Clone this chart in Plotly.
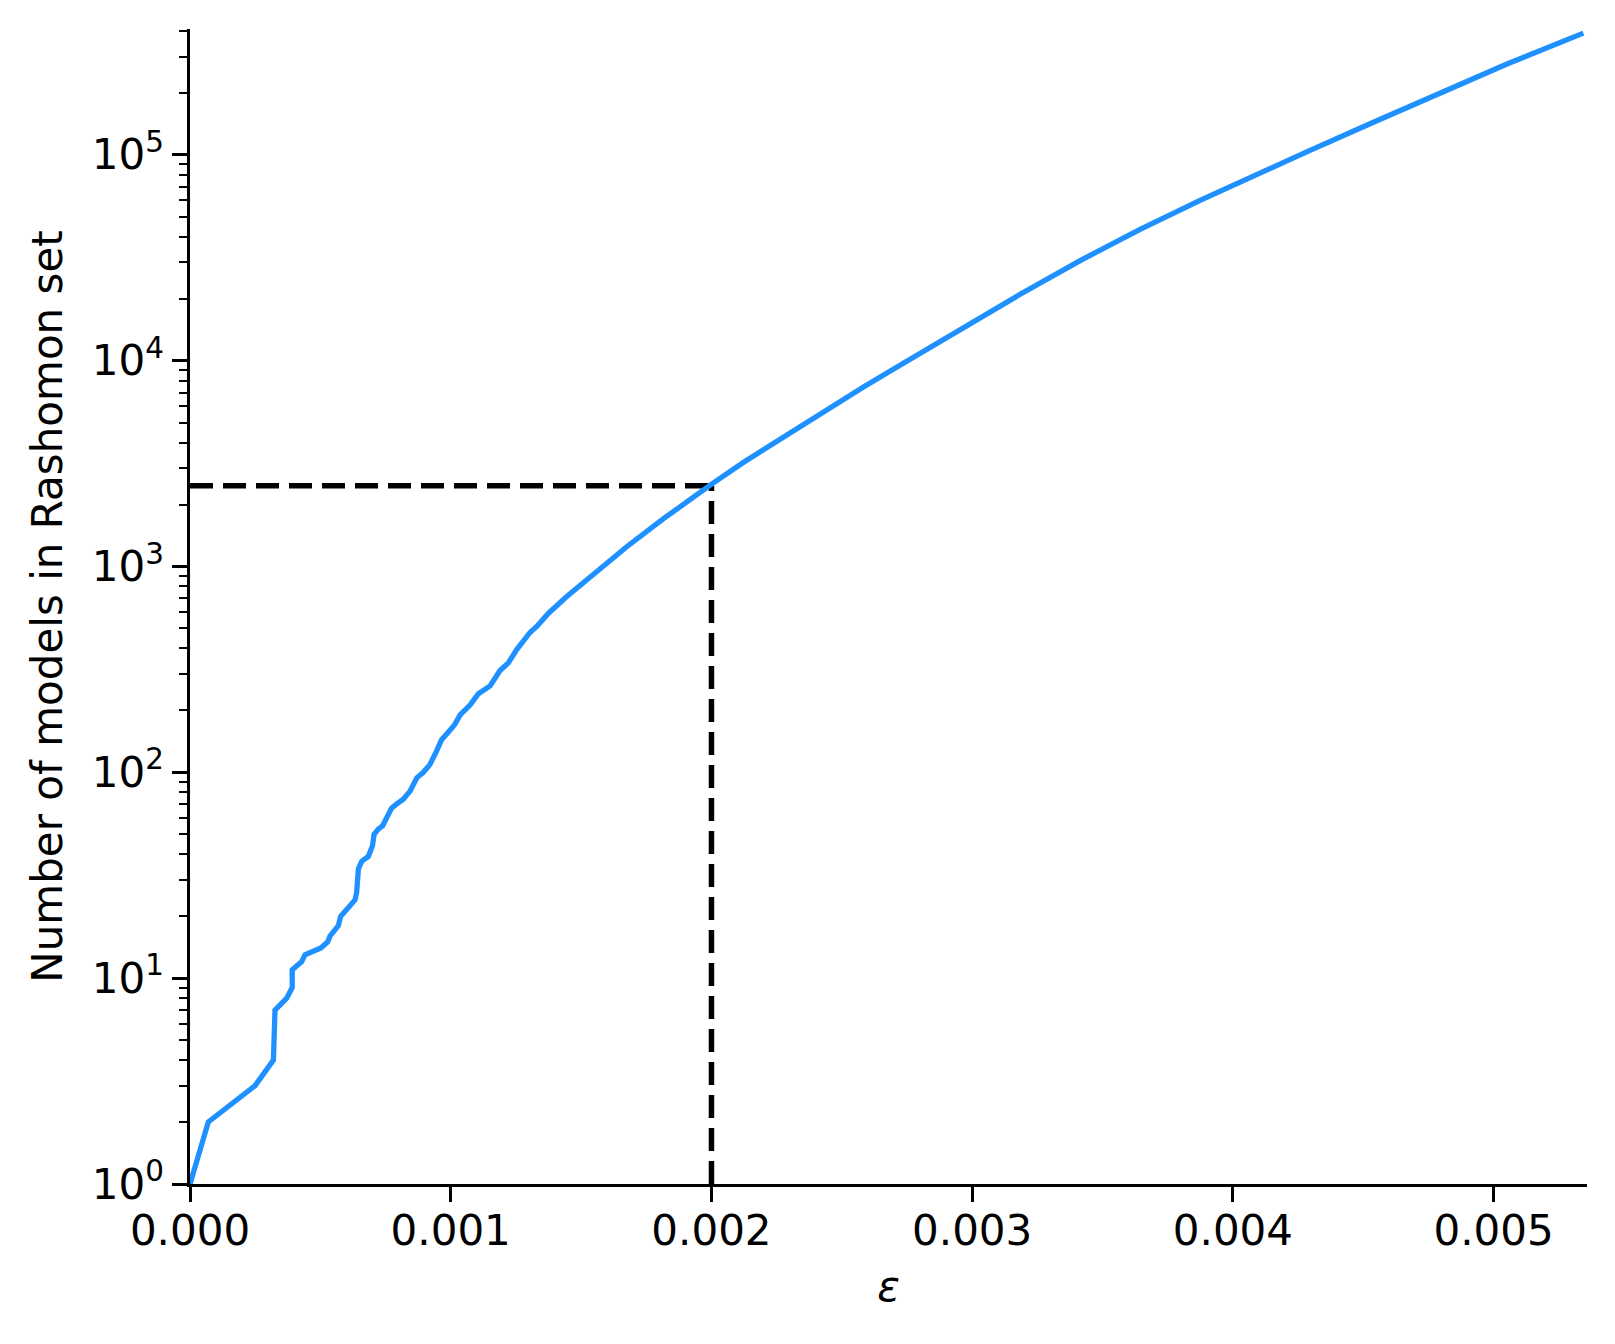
import plotly.graph_objects as go

# Curve (epsilon vs. Rashomon set size)
eps = [0.0, 0.0000702, 0.000249, 0.00032, 0.000326, 0.000371, 0.000392, 0.000392,
       0.000428, 0.000441, 0.000502, 0.000528, 0.000537, 0.000569, 0.000578, 0.000595,
       0.000607, 0.000633, 0.000639, 0.000646, 0.000659, 0.000684, 0.0007, 0.000706,
       0.000722, 0.000739, 0.000773, 0.000792, 0.000818, 0.000844, 0.00087, 0.000895,
       0.00092, 0.000946, 0.000965, 0.000997, 0.001016, 0.001036, 0.001074, 0.001106,
       0.001151, 0.001189, 0.001221, 0.001253, 0.001304, 0.00133, 0.001375, 0.001445,
       0.00156, 0.001675, 0.001816, 0.001892, 0.001995, 0.002122, 0.002276, 0.002429,
       0.002583, 0.002723, 0.002954, 0.003184, 0.003414, 0.003644, 0.003874, 0.004028,
       0.004283, 0.004539, 0.004795, 0.005051, 0.005344]
n_models = [1, 2, 3, 4, 7, 8, 9, 11,
            12, 13, 14, 15, 16, 18, 20, 21,
            22, 24, 26, 34, 37, 39, 44, 50,
            53, 55, 67, 70, 74, 81, 94, 100,
            109, 127, 144, 160, 171, 190, 212, 241,
            263, 312, 340, 395, 478, 511, 593, 714,
            951, 1247, 1706, 2009, 2483, 3199, 4266, 5649,
            7447, 9506, 14190, 20990, 30620, 43450, 59980, 73960,
            103300, 143900, 199500, 276100, 390000]

# Chosen threshold and its set size
eps_threshold = 0.002
n_threshold = 2470

x_ticks = [0.0, 0.001, 0.002, 0.003, 0.004, 0.005]
x_ticktext = ["0.000", "0.001", "0.002", "0.003", "0.004", "0.005"]
y_ticks = [1, 10, 100, 1000, 10000, 100000]
y_ticktext = ["10<sup>0</sup>", "10<sup>1</sup>", "10<sup>2</sup>",
              "10<sup>3</sup>", "10<sup>4</sup>", "10<sup>5</sup>"]
y_minor = [m * 10 ** k for k in range(0, 6) for m in range(2, 10) if m * 10 ** k < 408000]

FONT = "DejaVu Sans"
FS = 42

fig = go.Figure()
fig.add_trace(go.Scatter(x=[0, eps_threshold], y=[n_threshold, n_threshold], mode="lines",
                         line=dict(color="black", width=5.5, dash="23px,10px"),
                         showlegend=False, hoverinfo="skip"))
fig.add_trace(go.Scatter(x=[eps_threshold, eps_threshold], y=[1, n_threshold], mode="lines",
                         line=dict(color="black", width=5.5, dash="23px,10px"),
                         showlegend=False, hoverinfo="skip"))
fig.add_trace(go.Scatter(x=eps, y=n_models, mode="lines",
                         line=dict(color="#1E90FF", width=5.3),
                         showlegend=False))

fig.update_layout(
    width=1607, height=1336,
    margin=dict(l=182, r=28, t=21, b=160),
    paper_bgcolor="white", plot_bgcolor="white",
    font=dict(family=FONT, size=FS, color="black"),
)
fig.update_xaxes(
    range=[0, 0.005358], tickvals=x_ticks, ticktext=x_ticktext,
    ticks="outside", ticklen=15, tickwidth=2.5, tickcolor="black",
    ticklabelstandoff=-7, automargin=True,
    showline=True, linewidth=2.5, linecolor="black", mirror=False,
    showgrid=False, zeroline=False,
    tickfont=dict(family=FONT, size=FS, color="black"),
    title=dict(text="<i>ε</i>", font=dict(family=FONT, size=FS, color="black"), standoff=18),
)
fig.update_yaxes(
    type="log", range=[0, 5.611], tickvals=y_ticks, ticktext=y_ticktext,
    ticks="outside", ticklen=15, tickwidth=2.5, tickcolor="black",
    minor=dict(tickvals=y_minor, ticks="outside", ticklen=8, tickwidth=2, tickcolor="black",
               showgrid=False),
    showline=True, linewidth=2.5, linecolor="black", mirror=False,
    showgrid=False, zeroline=False,
    tickfont=dict(family=FONT, size=FS, color="black"),
    title=dict(text="Number of models in Rashomon set",
               font=dict(family=FONT, size=FS, color="black"), standoff=16),
)

fig.write_html("out.html")
